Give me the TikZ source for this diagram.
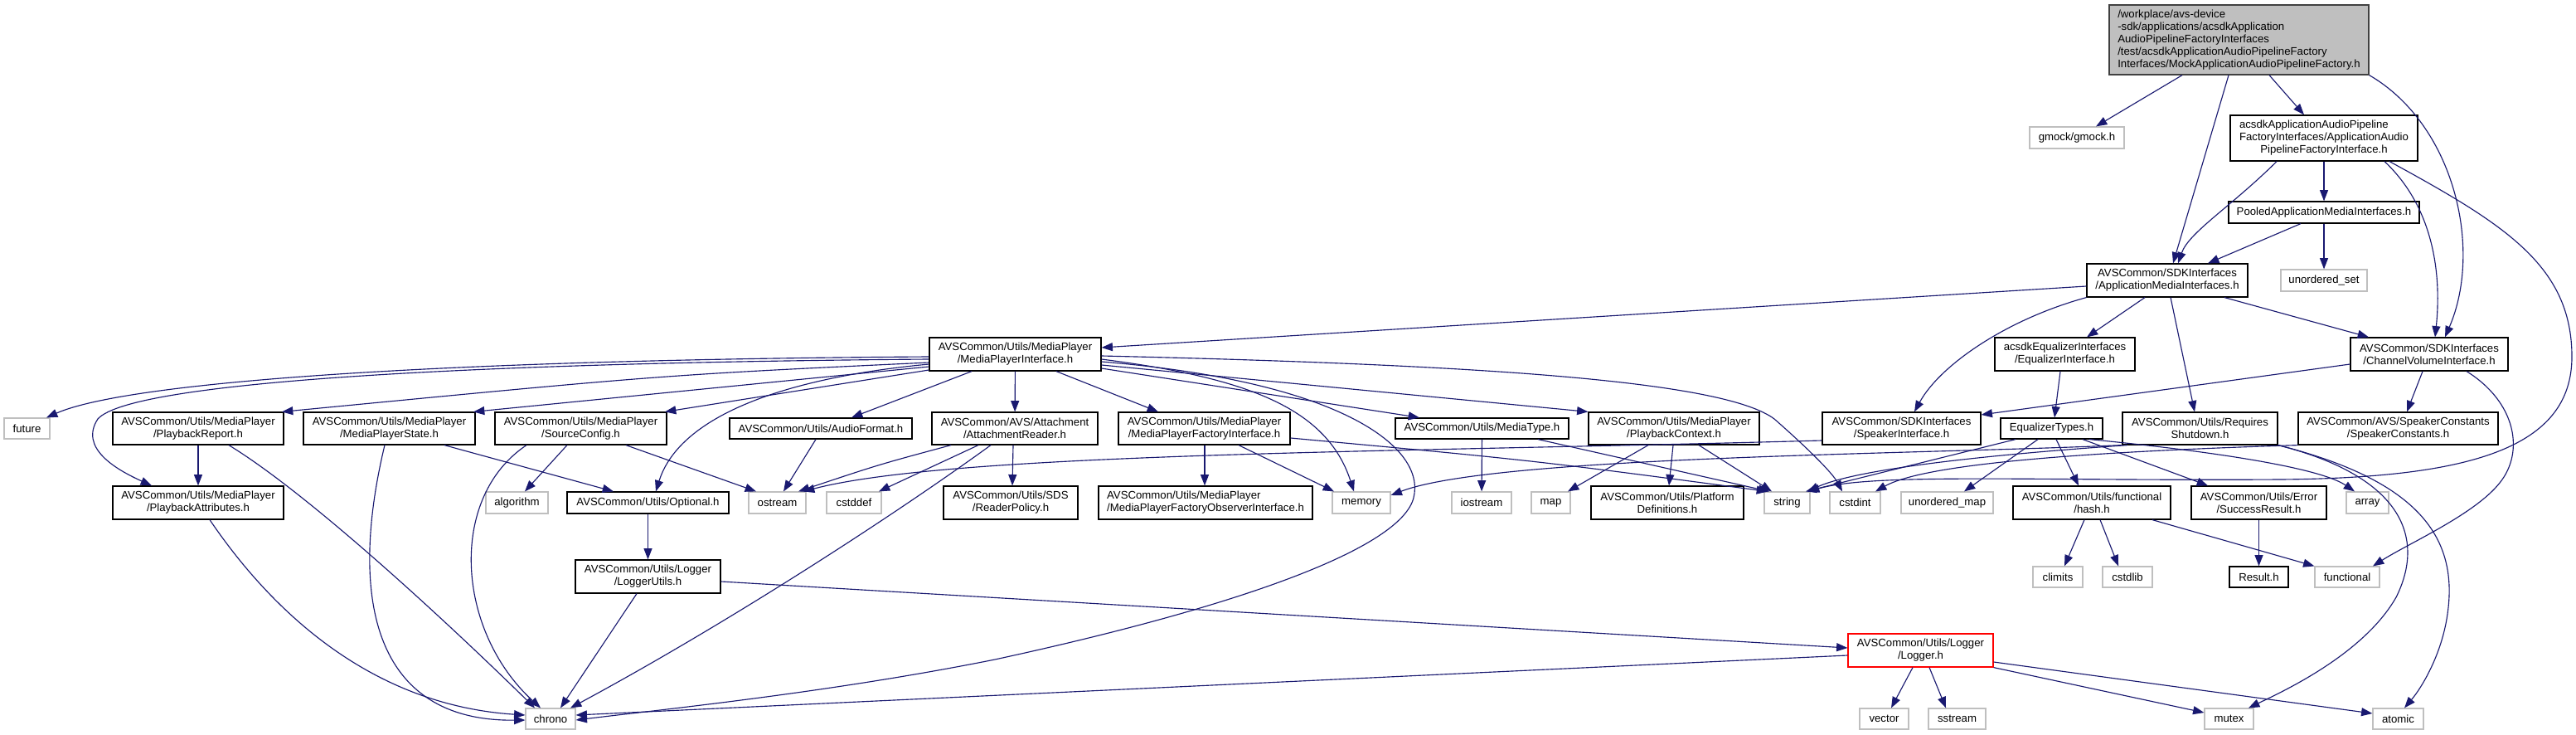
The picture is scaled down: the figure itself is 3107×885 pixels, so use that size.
\documentclass[tikz,border=0pt]{standalone}
\usepackage{fontspec}
\setmainfont{Liberation Sans}
\usetikzlibrary{arrows.meta,calc}
\definecolor{edgec}{HTML}{191970}
\definecolor{sysc}{HTML}{BFBFBF}
\definecolor{topfill}{HTML}{BFBFBF}
\definecolor{topline}{HTML}{404040}
\newcommand\bx[7]{\node[#1, minimum width={(#5-#3)*0.75pt}, minimum height={(#6-#4)*0.75pt}] (#2) at ({(#3+#5)/2},{(#4+#6)/2}) {#7};}
\begin{document}
\begin{tikzpicture}[x=0.75pt,y=-0.75pt,
  hdr/.style={draw=black, line width=0.9pt, fill=white, inner sep=0pt, align=center, font=\fontsize{9.9}{11.25}\selectfont},
  sys/.style={hdr, draw=sysc},
  redbox/.style={hdr, draw=red},
  topbox/.style={hdr, fill=topfill, draw=topline, align=left},
  leftbox/.style={hdr, align=left},
  dep/.style={draw=edgec, line width=0.85pt, -{Triangle[length=10pt,width=7.5pt]}}]
\fill[white] (0,0) rectangle (3107,885);
\useasboundingbox (0,0) rectangle (3107,885);
% nodes
\bx{topbox}{T}{2544}{6}{2857}{90}{/workplace/avs-device\\-sdk/applications/acsdkApplication\\AudioPipelineFactoryInterfaces\\/test/acsdkApplicationAudioPipelineFactory\\Interfaces/MockApplicationAudioPipelineFactory.h}
\bx{sys}{gmock}{2448}{153}{2562}{179}{gmock/gmock.h}
\bx{hdr}{AAPFI}{2690}{139}{2916}{194}{\begin{tabular}{@{}l@{}}acsdkApplicationAudioPipeline\\FactoryInterfaces/ApplicationAudio\\\multicolumn{1}{@{}c@{}}{PipelineFactoryInterface.h}\end{tabular}}
\bx{hdr}{Pooled}{2688}{243}{2918}{269}{PooledApplicationMediaInterfaces.h}
\bx{sys}{uset}{2751}{325}{2855}{351}{unordered\_set}
\bx{hdr}{AMI}{2517}{318}{2711}{358}{AVSCommon/SDKInterfaces\\/ApplicationMediaInterfaces.h}
\bx{hdr}{MPI}{1121}{407}{1328}{447}{AVSCommon/Utils/MediaPlayer\\/MediaPlayerInterface.h}
\bx{hdr}{EI}{2406}{407}{2575}{447}{acsdkEqualizerInterfaces\\/EqualizerInterface.h}
\bx{hdr}{CVI}{2835}{407}{3025}{447}{AVSCommon/SDKInterfaces\\/ChannelVolumeInterface.h}
\bx{sys}{future}{5}{504}{60}{529}{future}
\bx{hdr}{PR}{136}{497}{342}{536}{AVSCommon/Utils/MediaPlayer\\/PlaybackReport.h}
\bx{hdr}{MPS}{366}{497}{573}{536}{AVSCommon/Utils/MediaPlayer\\/MediaPlayerState.h}
\bx{hdr}{SrcCfg}{597}{497}{804}{536}{AVSCommon/Utils/MediaPlayer\\/SourceConfig.h}
\bx{hdr}{AF}{880}{504}{1100}{529}{AVSCommon/Utils/AudioFormat.h}
\bx{hdr}{AR}{1124}{497}{1324}{536}{AVSCommon/AVS/Attachment\\/AttachmentReader.h}
\bx{hdr}{MPFI}{1349}{497}{1556}{536}{AVSCommon/Utils/MediaPlayer\\/MediaPlayerFactoryInterface.h}
\bx{hdr}{MT}{1683}{504}{1892}{529}{AVSCommon/Utils/MediaType.h}
\bx{hdr}{PBC}{1916}{497}{2122}{536}{AVSCommon/Utils/MediaPlayer\\/PlaybackContext.h}
\bx{hdr}{SI}{2198}{497}{2389}{536}{AVSCommon/SDKInterfaces\\/SpeakerInterface.h}
\bx{hdr}{ET}{2413}{504}{2536}{529}{EqualizerTypes.h}
\bx{hdr}{RS}{2560}{497}{2747}{536}{AVSCommon/Utils/Requires\\Shutdown.h}
\bx{hdr}{SpC}{2772}{497}{3013}{536}{AVSCommon/AVS/SpeakerConstants\\/SpeakerConstants.h}
\bx{hdr}{PA}{136}{586}{342}{626}{AVSCommon/Utils/MediaPlayer\\/PlaybackAttributes.h}
\bx{sys}{algo}{586}{593}{661}{619}{algorithm}
\bx{hdr}{Opt}{684}{593}{879}{619}{AVSCommon/Utils/Optional.h}
\bx{sys}{ostream}{903}{593}{972}{619}{ostream}
\bx{sys}{cstddef}{997}{593}{1063}{619}{cstddef}
\bx{hdr}{RP}{1138}{586}{1300}{626}{AVSCommon/Utils/SDS\\/ReaderPolicy.h}
\bx{leftbox}{MPFO}{1325}{586}{1583}{626}{AVSCommon/Utils/MediaPlayer\\/MediaPlayerFactoryObserverInterface.h}
\bx{sys}{memory}{1607}{593}{1677}{619}{memory}
\bx{sys}{iostream}{1751}{593}{1823}{619}{iostream}
\bx{sys}{map}{1847}{593}{1894}{619}{map}
\bx{hdr}{PD}{1919}{586}{2103}{626}{AVSCommon/Utils/Platform\\Definitions.h}
\bx{sys}{string}{2128}{593}{2183}{619}{string}
\bx{sys}{cstdint}{2207}{593}{2268}{619}{cstdint}
\bx{sys}{umap}{2293}{593}{2404}{619}{unordered\_map}
\bx{hdr}{hash}{2428}{586}{2618}{626}{AVSCommon/Utils/functional\\/hash.h}
\bx{hdr}{SR}{2643}{586}{2806}{626}{AVSCommon/Utils/Error\\/SuccessResult.h}
\bx{sys}{array}{2830}{593}{2881}{619}{array}
\bx{hdr}{LU}{694}{675}{869}{715}{AVSCommon/Utils/Logger\\/LoggerUtils.h}
\bx{sys}{climits}{2452}{683}{2512}{708}{climits}
\bx{sys}{cstdlib}{2536}{683}{2596}{708}{cstdlib}
\bx{hdr}{Result}{2689}{683}{2760}{708}{Result.h}
\bx{sys}{functional}{2792}{683}{2870}{708}{functional}
\bx{redbox}{Logger}{2229}{764}{2404}{804}{AVSCommon/Utils/Logger\\/Logger.h}
\bx{sys}{chrono}{634}{854}{694}{879}{chrono}
\bx{sys}{vector}{2243}{854}{2302}{879}{vector}
\bx{sys}{sstream}{2326}{854}{2395}{879}{sstream}
\bx{sys}{mutex}{2659}{854}{2718}{879}{mutex}
\bx{sys}{atomic}{2862}{854}{2923}{879}{atomic}
% edges: top
\draw[dep] (T.south -| 2632,0) -- (gmock.north -| 2528,0);
\draw[dep] (T.south -| 2688,0) -- (AMI.north -| 2621,0);
\draw[dep] (T.south -| 2737,0) -- (AAPFI.north -| 2779,0);
\draw[dep] (T.south east) .. controls (2960,150) and (2995,300) .. (CVI.north -| 2949,0);
\draw[dep] (AAPFI.south -| 2746,0) .. controls (2690,250) and (2640,280) .. (AMI.north -| 2627,0);
\draw[dep] (AAPFI) -- (Pooled);
\draw[dep] (AAPFI.south -| 2876,0) .. controls (2935,250) and (2945,330) .. (CVI.north -| 2937,0);
\draw[dep] (AAPFI.south -| 2882,0) .. controls (3020,270) and (3102,320) .. (3102,430) .. controls (3102,540) and (2980,576) .. (2750,578) .. controls (2450,580) and (2260,570) .. (string.north -| 2181,0);
\draw[dep] (Pooled.south -| 2775,0) -- (AMI.north -| 2663,0);
\draw[dep] (Pooled) -- (uset);
% AMI
\draw[dep] (AMI.west |- 0,345) -- (MPI.east |- 0,419);
\draw[dep] (AMI.south west) .. controls (2420,385) and (2340,440) .. (SI.north -| 2309,0);
\draw[dep] (AMI.south -| 2587,0) -- (EI.north -| 2517,0);
\draw[dep] (AMI.south -| 2618,0) -- (RS.north -| 2647,0);
\draw[dep] (AMI.south -| 2683,0) -- (CVI.north -| 2857,0);
% CVI
\draw[dep] (CVI.west |- 0,439) -- (SI.east |- 0,500);
\draw[dep] (CVI.south -| 2922,0) -- (SpC.north -| 2903,0);
\draw[dep] (CVI.south -| 2975,0) .. controls (3035,485) and (3045,545) .. (3015,582) .. controls (2985,620) and (2905,655) .. (functional.north -| 2862,0);
% EI, ET
\draw[dep] (EI.south -| 2485,0) -- (ET.north -| 2478,0);
\draw[dep] (ET.south -| 2431,0) -- (string.north -| 2178,0);
\draw[dep] (ET.south -| 2458,0) -- (umap.north -| 2369,0);
\draw[dep] (ET.south -| 2480,0) -- (hash.north -| 2507,0);
\draw[dep] (ET.south -| 2512,0) -- (SR.north -| 2663,0);
\draw[dep] (ET.south -| 2520,0) .. controls (2680,545) and (2800,565) .. (array.north -| 2840,0);
% RS
\draw[dep] (RS.south west) .. controls (2300,548) and (1800,550) .. (memory.east |- 0,597);
\draw[dep] (RS.south -| 2566,0) .. controls (2400,548) and (2240,565) .. (string.north -| 2180,0);
\draw[dep] (RS.south east) .. controls (2900,575) and (2925,650) .. (2890,720) .. controls (2850,790) and (2750,835) .. (mutex.north -| 2712,0);
\draw[dep] (RS.south east) .. controls (2920,580) and (2965,650) .. (2952,740) .. controls (2945,790) and (2920,830) .. (atomic.north -| 2900,0);
% SpC, SI
\draw[dep] (SpC.south west) .. controls (2500,545) and (2320,560) .. (cstdint.north -| 2262,0);
\draw[dep] (SI.west |- 0,531) .. controls (1700,545) and (1150,545) .. (ostream.north -| 969,0);
% MPI
\draw[dep] (MPI.west |- 0,430) .. controls (500,434) and (150,462) .. (future.north -| 56,0);
\draw[dep] (MPI.west |- 0,433) .. controls (600,437) and (160,458) .. (118,505) .. controls (95,540) and (140,566) .. (PA.north -| 183,0);
\draw[dep] (MPI.west |- 0,437) .. controls (800,452) .. (PR.north -| 340,0);
\draw[dep] (MPI.west |- 0,442) -- (MPS.north -| 571,0);
\draw[dep] (MPI.west |- 0,446) -- (SrcCfg.north -| 802,0);
\draw[dep] (MPI.west |- 0,439) .. controls (950,455) and (820,500) .. (Opt.north -| 791,0);
\draw[dep] (MPI.south -| 1172,0) -- (AF.north -| 1027,0);
\draw[dep] (MPI) -- (AR);
\draw[dep] (MPI.south -| 1274,0) -- (MPFI.north -| 1397,0);
\draw[dep] (MPI.east |- 0,444) -- (MT.north -| 1712,0);
\draw[dep] (MPI.east |- 0,440) -- (PBC.north west);
\draw[dep] (MPI.east |- 0,429) .. controls (1800,440) and (2080,460) .. (2140,505) .. controls (2180,540) and (2210,570) .. (cstdint.north -| 2222,0);
\draw[dep] (MPI.east |- 0,433) .. controls (1500,455) and (1600,490) .. (memory.north -| 1633,0);
\draw[dep] (MPI.east |- 0,436) .. controls (1620,460) and (1720,540) .. (1705,600) .. controls (1690,660) and (1500,730) .. (1200,795) .. controls (1000,835) and (800,855) .. (chrono.east |- 0,868);
% others
\draw[dep] (AR.south -| 1195,0) .. controls (1080,620) and (880,750) .. (chrono.north -| 688,0);
\draw[dep] (Logger.west |- 0,790) -- (chrono.east |- 0,862);
\draw[dep] (LU.east |- 0,701) -- (Logger.west |- 0,781);
\draw[dep] (LU.south -| 768,0) -- (chrono.north -| 676,0);
\draw[dep] (Opt) -- (LU);
\draw[dep] (PR) -- (PA);
\draw[dep] (PR.south -| 276,0) .. controls (380,600) and (560,770) .. (chrono.north -| 645,0);
\draw[dep] (PA.south -| 253,0) .. controls (330,740) and (450,850) .. (chrono.west |- 0,862);
\draw[dep] (MPS.south -| 464,0) .. controls (420,720) and (450,870) .. (chrono.west |- 0,868);
\draw[dep] (MPS.south -| 536,0) -- (Opt.north -| 740,0);
\draw[dep] (SrcCfg.south -| 635,0) .. controls (540,600) and (550,760) .. (chrono.north -| 652,0);
\draw[dep] (SrcCfg.south -| 684,0) -- (algo.north -| 633,0);
\draw[dep] (SrcCfg.south -| 755,0) -- (ostream.north -| 912,0);
\draw[dep] (AF.south -| 984,0) -- (ostream.north -| 945,0);
\draw[dep] (AR.south -| 1147,0) .. controls (1060,560) .. (ostream.north -| 963,0);
\draw[dep] (AR.south -| 1180,0) -- (cstddef.north -| 1060,0);
\draw[dep] (AR.south -| 1222,0) -- (RP.north -| 1221,0);
\draw[dep] (MPFI.south -| 1453,0) -- (MPFO.north -| 1453,0);
\draw[dep] (MPFI.south -| 1494,0) -- (memory.north -| 1609,0);
\draw[dep] (MPFI.east |- 0,528) .. controls (1850,555) .. (string.north -| 2132,0);
\draw[dep] (MT) -- (iostream);
\draw[dep] (MT.south -| 1855,0) -- (string.north -| 2134,0);
\draw[dep] (PBC.south -| 1988,0) -- (map.north -| 1891,0);
\draw[dep] (PBC.south -| 2018,0) -- (PD.north -| 2013,0);
\draw[dep] (PBC.south -| 2049,0) -- (string.north -| 2137,0);
\draw[dep] (hash.south -| 2514,0) -- (climits.north -| 2490,0);
\draw[dep] (hash.south -| 2533,0) -- (cstdlib.north -| 2555,0);
\draw[dep] (hash.south -| 2596,0) -- (functional.north west);
\draw[dep] (SR) -- (Result);
\draw[dep] (Logger.south -| 2307,0) -- (vector.north -| 2281,0);
\draw[dep] (Logger.south -| 2327,0) -- (sstream.north -| 2347,0);
\draw[dep] (Logger.south east) -- (mutex.west |- 0,859);
\draw[dep] (Logger.east |- 0,798) -- (atomic.west |- 0,860);
\end{tikzpicture}
\end{document}
